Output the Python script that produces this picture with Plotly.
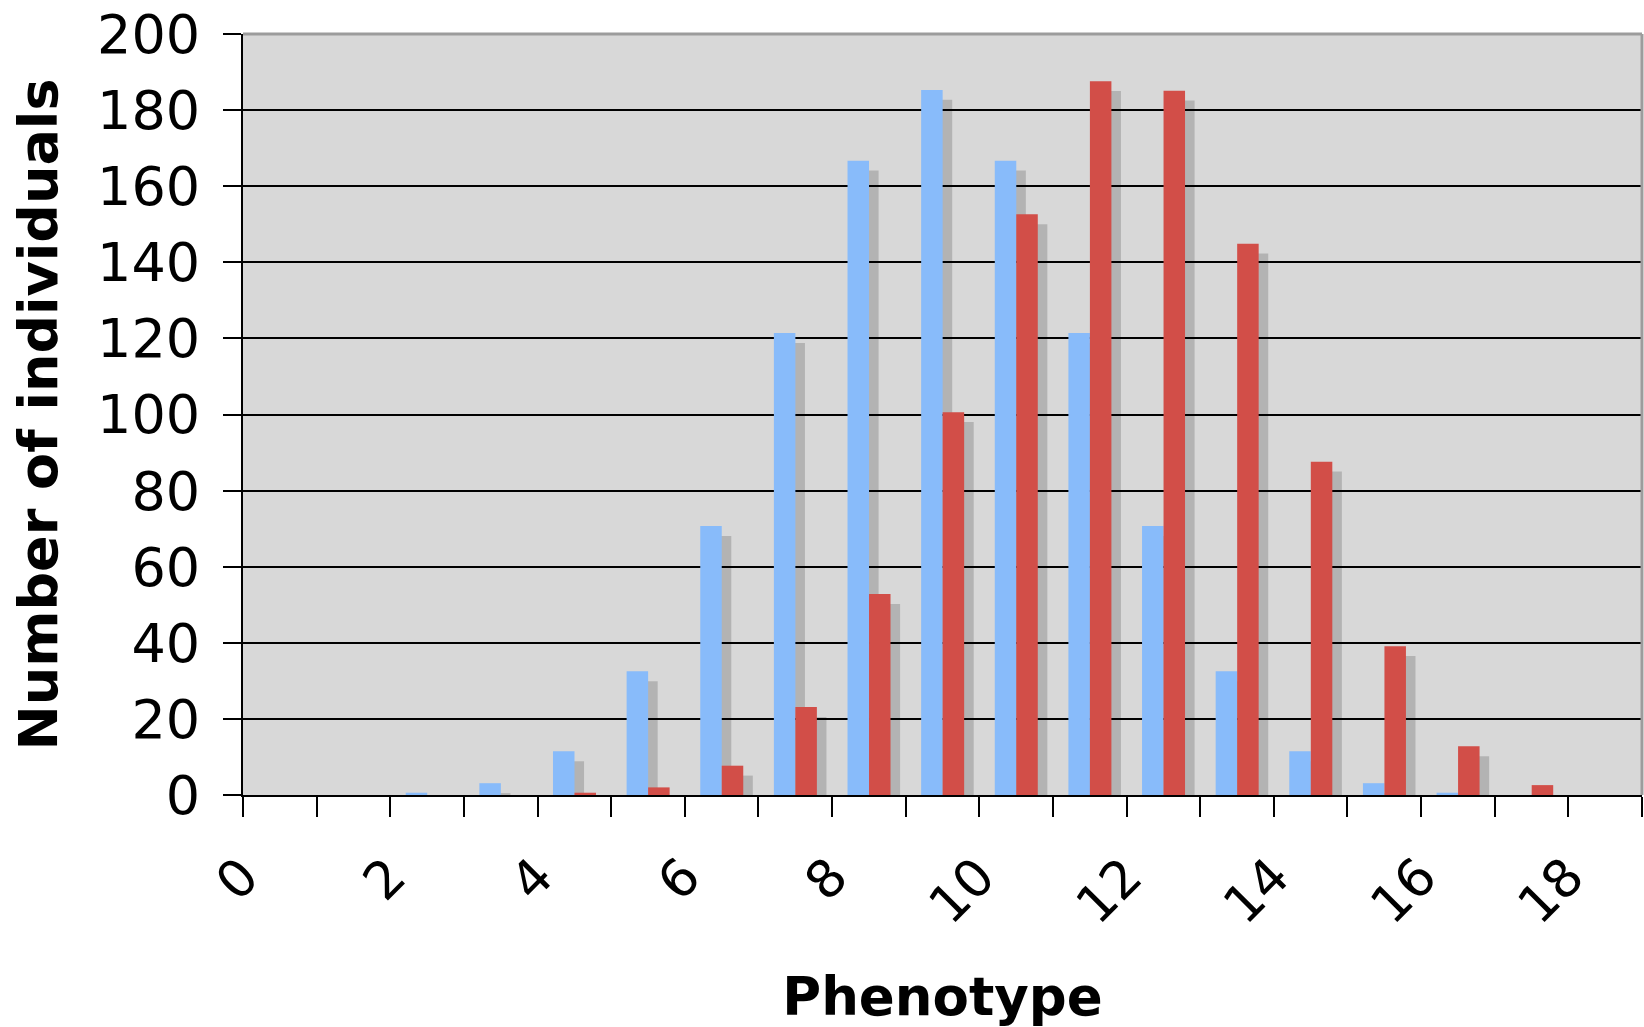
import plotly.graph_objects as go

# Phenotype classes and counts for the two populations
phenotype = list(range(19))
blue_counts = [0, 0, 0.6, 3.1, 11.5, 32.5, 70.7, 121.4, 166.7, 185.3,
               166.7, 121.4, 70.7, 32.5, 11.5, 3.1, 0.6, 0, 0]
red_counts = [0, 0, 0, 0, 0.6, 2.0, 7.7, 23.1, 52.8, 100.6,
              152.6, 187.6, 185.1, 144.9, 87.6, 39.1, 12.8, 2.6, 0]

x_tick_values = [0, 2, 4, 6, 8, 10, 12, 14, 16, 18]
x_tick_labels = ["0", "2", "4", "6", "8", "10", "12", "14", "16", "18"]
y_tick_values = [0, 20, 40, 60, 80, 100, 120, 140, 160, 180, 200]
y_tick_labels = ["0", "20", "40", "60", "80", "100", "120", "140", "160", "180", "200"]

BLUE = "#88bbfa"
RED = "#d24e48"
SHADOW = "rgba(0,0,0,0.17)"
BAR_W = 0.292
BLUE_OFF = 0.21
RED_OFF = BLUE_OFF + BAR_W
SHADOW_DX = 0.13
SHADOW_DY = 2.6

fig = go.Figure()

# drop shadows first, so the bars sit on top of them
for counts, off in ((blue_counts, BLUE_OFF), (red_counts, RED_OFF)):
    fig.add_trace(go.Bar(
        x=phenotype, y=counts, base=-SHADOW_DY,
        offset=off + SHADOW_DX, width=BAR_W,
        marker=dict(color=SHADOW, line=dict(width=0)),
        hoverinfo="skip", showlegend=False,
    ))

fig.add_trace(go.Bar(
    x=phenotype, y=blue_counts, offset=BLUE_OFF, width=BAR_W,
    marker=dict(color=BLUE, line=dict(width=0)), showlegend=False,
))
fig.add_trace(go.Bar(
    x=phenotype, y=red_counts, offset=RED_OFF, width=BAR_W,
    marker=dict(color=RED, line=dict(width=0)), showlegend=False,
))

fig.update_layout(
    width=1644, height=1027,
    margin=dict(l=243, r=2, t=34, b=232),
    paper_bgcolor="white",
    plot_bgcolor="#d8d8d8",
    barmode="overlay",
    font=dict(family="DejaVu Sans", color="black"),
    showlegend=False,
    shapes=[
        dict(type="line", xref="paper", yref="paper", x0=0, x1=1, y0=1, y1=1,
             line=dict(color="#9c9c9c", width=3)),
        dict(type="line", xref="paper", yref="paper", x0=1, x1=1, y0=0, y1=1,
             line=dict(color="#9c9c9c", width=3)),
    ],
)

fig.update_xaxes(
    range=[0, 19],
    tickvals=x_tick_values, ticktext=x_tick_labels,
    tickangle=-45,
    tickfont=dict(size=52, family="DejaVu Sans"),
    ticks="outside", ticklen=20, tickwidth=2, tickcolor="black",
    ticklabelstandoff=8,
    minor=dict(dtick=1, tick0=0, ticks="outside", ticklen=20, tickwidth=2,
               tickcolor="black", showgrid=False),
    showline=True, linecolor="black", linewidth=2,
    showgrid=False, zeroline=False,
    title=dict(text="<b>Phenotype</b>", font=dict(size=53, family="DejaVu Sans"),
               standoff=46),
)

fig.update_yaxes(
    range=[0, 200],
    tickvals=y_tick_values, ticktext=y_tick_labels,
    tickfont=dict(size=54, family="DejaVu Sans"),
    ticks="outside", ticklen=18, tickwidth=2, tickcolor="black",
    ticklabelstandoff=12,
    showline=True, linecolor="black", linewidth=2,
    showgrid=True, gridcolor="black", gridwidth=2,
    zeroline=False,
    title=dict(text="<b>Number of individuals</b>",
               font=dict(size=54, family="DejaVu Sans"), standoff=22),
)

fig.write_html("out.html")
